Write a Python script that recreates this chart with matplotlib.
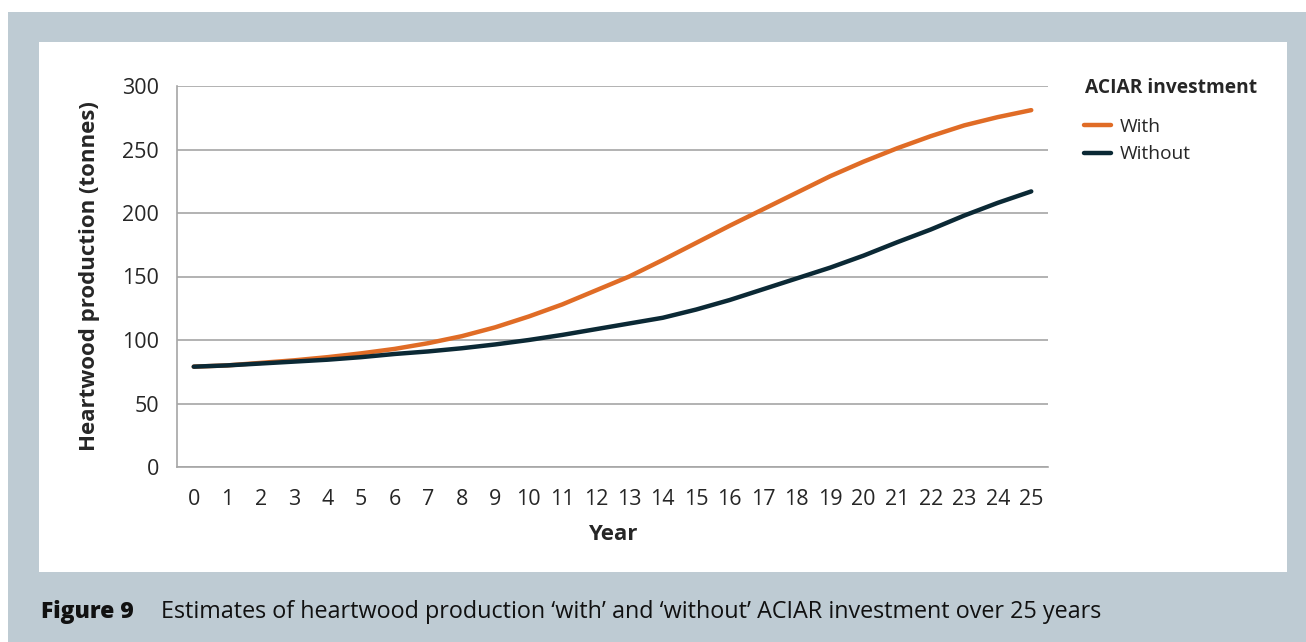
import matplotlib
matplotlib.use("Agg")
import matplotlib.pyplot as plt
from matplotlib.patches import Rectangle

plt.rcParams['font.family'] = ['Open Sans', 'DejaVu Sans']

years = list(range(0, 26))
with_investment = [79, 80, 82, 84, 86.5, 89.5, 93, 97.5, 103, 110, 118.5, 128, 139,
                   150, 163, 176.5, 190, 203, 216, 229, 240.5, 251, 260.5, 269, 275.5, 281]
without_investment = [79, 80, 81.5, 83, 84.5, 86.5, 89, 91, 93.5, 96.5, 100, 104, 108.5,
                      113, 117.5, 124, 131.5, 140, 148.5, 157, 166.5, 177, 187, 198, 208, 217]

series_names = ["With", "Without"]
series_colors = ["#E06C26", "#0B2935"]
y_ticks = [0, 50, 100, 150, 200, 250, 300]

W, H = 1306, 642
fig = plt.figure(figsize=(W / 100, H / 100), dpi=100)
fig.patch.set_facecolor("white")

# framed background and white panel
fig.add_artist(Rectangle((8 / W, 0), 1 - 8 / W, 1 - 12 / H, transform=fig.transFigure,
                         facecolor="#BECBD3", edgecolor="none", zorder=-3))
fig.add_artist(Rectangle((39 / W, 1 - 572 / H), (1287 - 39) / W, (572 - 42) / H,
                         transform=fig.transFigure, facecolor="white", edgecolor="none", zorder=-2))

ax = fig.add_axes([177 / W, 1 - 467 / H, (1048 - 177) / W, (467 - 86) / H])
ax.set_facecolor("none")

ax.plot(years, with_investment, color=series_colors[0], lw=3.2, solid_capstyle="round",
        label=series_names[0], zorder=3)
ax.plot(years, without_investment, color=series_colors[1], lw=3.2, solid_capstyle="round",
        label=series_names[1], zorder=3)

ax.set_xlim(-0.5, 25.5)
ax.set_ylim(0, 300)
ax.set_yticks(y_ticks)
ax.set_xticks(years)
ax.set_xticklabels([str(y) for y in years])
ax.grid(axis="y", color="#A6A6A6", lw=1.2)
ax.set_axisbelow(True)
for side in ["top", "right"]:
    ax.spines[side].set_visible(False)
for side in ["left", "bottom"]:
    ax.spines[side].set_color("#A6A6A6")
    ax.spines[side].set_linewidth(1.2)
ax.tick_params(axis="both", length=0, labelsize=15.5, colors="#262626")
ax.tick_params(axis="y", pad=13)
ax.tick_params(axis="x", pad=16)

ax.set_xlabel("Year", fontsize=16, fontweight="bold", color="#262626", labelpad=10)
ax.set_ylabel("Heartwood production (tonnes)", fontsize=16, fontweight="bold",
              color="#262626", labelpad=16)

# legend heading and entries
fig.text(1085 / W, 1 - 88 / H, "ACIAR investment", fontsize=13.8, fontweight="bold",
         color="#262626", ha="left", va="center")
leg = fig.legend(loc="upper left", bbox_to_anchor=(1076 / W, 1 - 110 / H), frameon=False,
                 fontsize=13.8, handlelength=1.45, handletextpad=0.45, labelspacing=0.5,
                 borderaxespad=0)
for t in leg.get_texts():
    t.set_color("#262626")

fig.text(41 / W, 1 - 612 / H, "Figure 9", fontsize=16.5, fontweight="heavy",
         color="#111111", va="center", ha="left")
fig.text(161 / W, 1 - 612 / H,
         "Estimates of heartwood production \u2018with\u2019 and \u2018without\u2019 ACIAR investment over 25 years",
         fontsize=16.8, color="#111111", va="center", ha="left")

fig.savefig("out.png", dpi=100)
